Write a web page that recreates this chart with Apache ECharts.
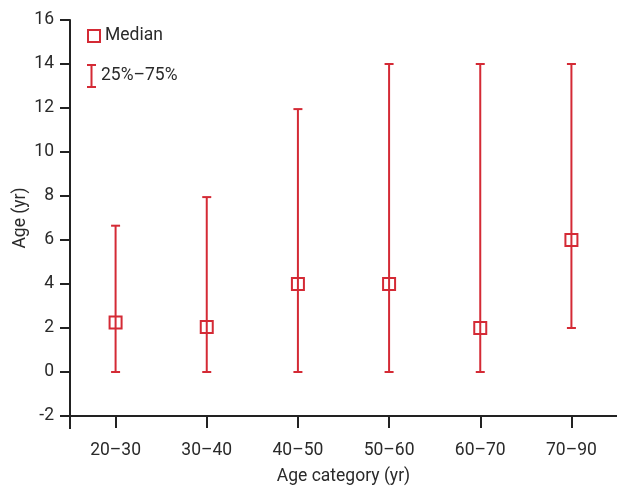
<!DOCTYPE html>
<html>
<head>
<meta charset="utf-8">
<script src="https://cdn.jsdelivr.net/npm/echarts@6/dist/echarts.min.js"></script>
<style>html,body{margin:0;padding:0;background:#fff}#c{width:617px;height:488px}</style>
</head>
<body>
<div id="c"></div>
<script>
const categories = ['20–30', '30–40', '40–50', '50–60', '60–70', '70–90'];
const medians = [2.25, 2.05, 4, 4, 2, 6];
const q25 = [0, 0, 0, 0, 0, 2];
const q75 = [6.65, 7.95, 11.95, 14, 14, 14];
const yTicks = { min: -2, max: 16, interval: 2 };

const RED = '#d42a35';
const FONT = '"Liberation Sans Narrow", "Roboto", sans-serif';
const FS = 17.5;
const TXT = '#2a2a2a';
const chart = echarts.init(document.getElementById('c'));

const errData = categories.map((c, i) => [i, q25[i], q75[i]]);

chart.setOption({
  animation: false,
  grid: { left: 70, right: 0, top: 20, bottom: 72, containLabel: false, outerBoundsMode: 'none' },
  legend: [
    {
      left: 87, top: 27, padding: 0, orient: 'vertical', itemWidth: 12, itemHeight: 12,
      textStyle: { fontFamily: FONT, fontSize: FS, color: TXT },
      data: [{ name: 'Median', icon: 'rect', itemStyle: { color: 'rgba(0,0,0,0)', borderColor: RED, borderWidth: 2 } }]
    },
    {
      left: 87, top: 64, padding: 0, orient: 'vertical', itemWidth: 9, itemHeight: 24,
      textStyle: { fontFamily: FONT, fontSize: FS, color: TXT },
      data: [{ name: '25%–75%', icon: 'path://M0,0H9V2H5.5V22H9V24H0V22H3.5V2H0Z', itemStyle: { color: RED, borderWidth: 0 } }]
    }
  ],
  xAxis: {
    type: 'category', data: categories, boundaryGap: true,
    axisLine: { show: true, onZero: false, lineStyle: { color: '#222', width: 2 } },
    axisTick: { show: true, alignWithLabel: true, length: 12, lineStyle: { color: '#222', width: 2 } },
    axisLabel: { fontFamily: FONT, fontSize: FS, color: TXT, margin: 26 },
    name: 'Age category (yr)', nameLocation: 'middle', nameGap: 52, nameMoveOverlap: false,
    nameTextStyle: { fontFamily: FONT, fontSize: FS, color: TXT }
  },
  yAxis: {
    type: 'value', min: yTicks.min, max: yTicks.max, interval: yTicks.interval,
    axisLine: { show: true, lineStyle: { color: '#222', width: 2 } },
    axisTick: { show: true, length: 10, lineStyle: { color: '#222', width: 2 } },
    axisLabel: { fontFamily: FONT, fontSize: FS, color: TXT, margin: 16 },
    splitLine: { show: false },
    name: 'Age (yr)', nameLocation: 'middle', nameGap: 40, nameMoveOverlap: false,
    nameTextStyle: { fontFamily: FONT, fontSize: FS, color: TXT }
  },
  graphic: [{
    type: 'line', shape: { x1: 70, y1: 416, x2: 70, y2: 429 },
    style: { stroke: '#222', lineWidth: 2 }
  }],
  series: [
    {
      name: '25%–75%', type: 'custom', data: errData, z: 2,
      renderItem: function (params, api) {
        const x = api.value(0);
        const lo = api.coord([x, api.value(1)]);
        const hi = api.coord([x, api.value(2)]);
        const hw = 4.5;
        const st = { stroke: RED, lineWidth: 2 };
        return {
          type: 'group', children: [
            { type: 'line', shape: { x1: lo[0], y1: lo[1], x2: hi[0], y2: hi[1] }, style: st },
            { type: 'line', shape: { x1: lo[0] - hw, y1: lo[1], x2: lo[0] + hw, y2: lo[1] }, style: st },
            { type: 'line', shape: { x1: hi[0] - hw, y1: hi[1], x2: hi[0] + hw, y2: hi[1] }, style: st }
          ]
        };
      }
    },
    {
      name: 'Median', type: 'scatter', data: medians, symbol: 'rect', symbolSize: 12, z: 3,
      itemStyle: { color: 'rgba(0,0,0,0)', borderColor: RED, borderWidth: 2, opacity: 1 }
    }
  ]
});
</script>
</body>
</html>
